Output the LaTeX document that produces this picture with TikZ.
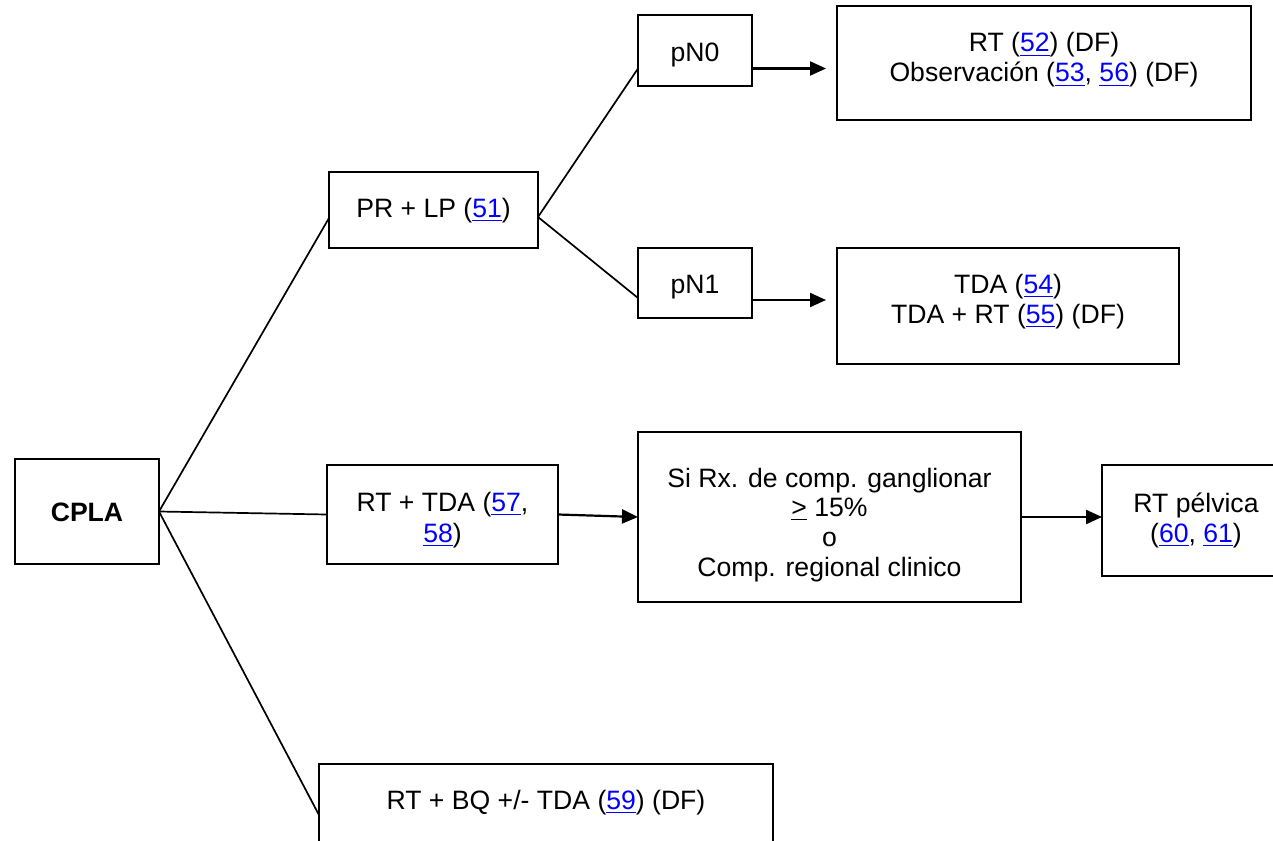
\documentclass[tikz,border=0pt]{standalone}
\usepackage{fontspec}
\setmainfont{Liberation Sans}
\usetikzlibrary{arrows.meta}
\newcommand{\lnk}[1]{\textcolor{linkblue}{\underline{#1}}}
\definecolor{linkblue}{RGB}{0,0,255}
\begin{document}
\begin{tikzpicture}[x=0.5pt,y=-0.5pt,
  box/.style={draw=black,line width=1.1pt,rectangle,inner sep=0pt,outer sep=0pt},
  txt/.style={anchor=base,inner sep=0pt,outer sep=0pt,font=\fontsize{13.3}{15}\selectfont},
  link/.style={draw=black,line width=0.85pt},
  arr/.style={draw=black,line width=1.1pt,-{Triangle[length=8pt,width=7pt]}}]
\useasboundingbox (0,0) rectangle (1273,840);
\clip (0,0) rectangle (1273,840);
% boxes
\node[box,minimum width=72pt,minimum height=52.5pt] (cpla) at (87,511.5) {};
\node[box,minimum width=104.5pt,minimum height=38pt] (prlp) at (433.5,210) {};
\node[box,minimum width=57pt,minimum height=35.5pt] (pn0) at (695,50.5) {};
\node[box,minimum width=57pt,minimum height=35pt] (pn1) at (695,283) {};
\node[box,minimum width=207pt,minimum height=57pt] (rt52) at (1044,63) {};
\node[box,minimum width=171pt,minimum height=58pt] (tda) at (1008,306) {};
\node[box,minimum width=115.5pt,minimum height=49.5pt] (rtda) at (442.5,514.5) {};
\node[box,minimum width=191.5pt,minimum height=85pt] (si) at (829.5,517) {};
\node[box,minimum width=94pt,minimum height=55.5pt] (rtp) at (1196,520.5) {};
\node[box,minimum width=227pt,minimum height=51pt] (rtbq) at (546,815) {};
% texts
\node[txt] (t-cpla) at (87,521.5) {\textbf{CPLA}};
\node[txt] (t-prlp) at (433.5,217) {PR + LP (\lnk{51})};
\node[txt] (t-pn0) at (695,62) {pN0};
\node[txt] (t-pn1) at (695,293) {pN1};
\node[txt] (t-rt52a) at (1044,52) {RT (\lnk{52}) (DF)};
\node[txt] (t-rt52b) at (1044,82) {Observación (\lnk{53}, \lnk{56}) (DF)};
\node[txt] (t-tdaa) at (1008,293) {TDA (\lnk{54})};
\node[txt] (t-tdab) at (1008,323) {TDA + RT (\lnk{55}) (DF)};
\node[txt] (t-rtdaa) at (442.5,511.7) {RT + TDA (\lnk{57},};
\node[txt] (t-rtdab) at (442.5,542) {\lnk{58})};
\node[txt] (t-sia) at (829.5,487) {Si Rx. de comp. ganglionar};
\node[txt] (t-sib) at (829.5,516.5) {\underline{>} 15\%};
\node[txt] (t-sic) at (829.5,546.5) {o};
\node[txt] (t-sid) at (829.5,576.5) {Comp. regional clinico};
\node[txt] (t-rtpa) at (1196,512) {RT pélvica};
\node[txt] (t-rtpb) at (1196,542) {(\lnk{60}, \lnk{61})};
\node[txt] (t-rtbq) at (546,809) {RT + BQ +/- TDA (\lnk{59}) (DF)};
% connectors
\draw[link] (cpla.east) -- ([yshift=-4pt]prlp.west);
\draw[link] (cpla.east) -- (rtda.west);
\draw[link] (cpla.east) -- (rtbq.west);
\draw[link] ([yshift=-3.5pt]prlp.east) -- ([yshift=-9pt]pn0.west);
\draw[link] ([yshift=-3.5pt]prlp.east) -- ([yshift=-7.5pt]pn1.west);
\draw[arr,shorten >=5.5pt] ([yshift=-9pt]pn0.east) -- ([yshift=-9pt]pn0.east -| rt52.west);
\draw[arr,shorten >=5.5pt] ([yshift=-8.5pt]pn1.east) -- ([yshift=-8.5pt]pn1.east -| tda.west);
\draw[arr] (rtda.east) -- (si.west);
\draw[arr] (si.east) -- (si.east -| rtp.west);
\end{tikzpicture}
\end{document}
